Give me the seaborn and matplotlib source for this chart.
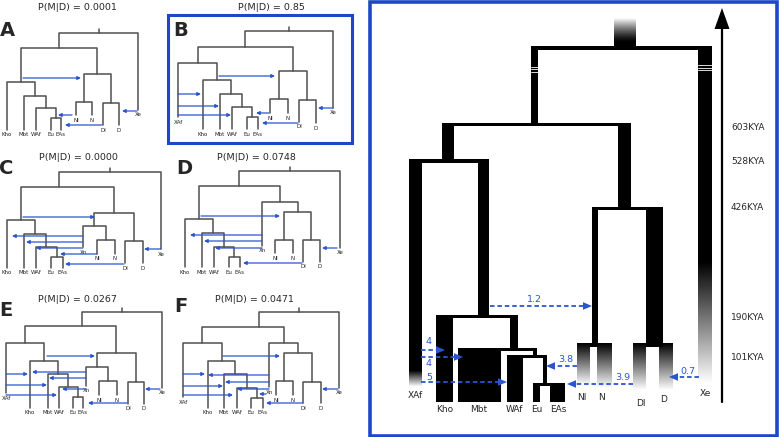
import numpy as np
import pandas as pd
import seaborn as sns
import matplotlib.pyplot as plt
from matplotlib.patches import Rectangle, Polygon

sns.set_theme(style='white')
plt.rcParams['font.family'] = ['DejaVu Sans']

BLUE = '#1d47c8'
ARROW = '#2a55cf'
TREE = '#505050'

# ---- small model trees (panel-local px, y grows downward) ----
letters = ['A', 'B', 'C', 'D', 'E', 'F']
probs = ['0.0001', '0.85', '0.0000', '0.0748', '0.0267', '0.0471']

A_names = ['Kho', 'Mbt', 'WAf', 'Eu', 'EAs', 'NI', 'N', 'DI', 'D', 'Xe']
A_x = [7, 24, 36, 51, 61, 76, 92, 103, 119, 138]
A_lab = [135, 135, 135, 135, 135, 120, 120, 130, 130, 115]
A_joins = [('ee', 'Eu', 'EAs', 118), ('we', 'WAf', 'ee', 108), ('mw', 'Mbt', 'we', 96),
           ('km', 'Kho', 'mw', 82), ('nn', 'NI', 'N', 102), ('dd', 'DI', 'D', 103),
           ('ar', 'nn', 'dd', 74), ('ma', 'km', 'ar', 48), ('rt', 'ma', 'Xe', 33)]
A_mig = [(23, 81, 78), (72, 58, 115), (102, 65, 125), (137, 122, 111)]

B_names = ['XAf', 'Kho', 'Mbt', 'WAf', 'Eu', 'EAs', 'NI', 'N', 'DI', 'D', 'Xe']
B_x = [8, 33, 50, 62, 77, 88, 100, 118, 129, 146, 163]
B_lab = [122, 134, 134, 134, 134, 134, 118, 118, 127, 128, 113]
B_joins = [('ee', 'Eu', 'EAs', 117), ('we', 'WAf', 'ee', 107), ('mw', 'Mbt', 'we', 94),
           ('km', 'Kho', 'mw', 80), ('xk', 'XAf', 'km', 63), ('nn', 'NI', 'N', 99),
           ('dd', 'DI', 'D', 100), ('ar', 'nn', 'dd', 71), ('ma', 'xk', 'ar', 47),
           ('rt', 'ma', 'Xe', 31)]
B_mig = [(49, 105, 76), (8, 31, 94), (8, 49, 106), (8, 61, 115),
         (99, 86, 113), (128, 92, 123), (163, 148, 108)]

C_names = ['Kho', 'Mbt', 'WAf', 'Eu', 'EAs', 'Xn', 'NI', 'N', 'DI', 'D', 'Xe']
C_x = [7, 24, 36, 51, 63, 83, 97, 115, 125, 143, 161]
C_lab = [133, 133, 133, 133, 133, 112, 119, 119, 128, 128, 114]
C_joins = [('ee', 'Eu', 'EAs', 117), ('we', 'WAf', 'ee', 107), ('mw', 'Mbt', 'we', 94),
           ('km', 'Kho', 'mw', 80), ('nn', 'NI', 'N', 100), ('xn', 'Xn', 'nn', 86),
           ('dd', 'DI', 'D', 101), ('ar', 'xn', 'dd', 73), ('ma', 'km', 'ar', 47, 59),
           ('rt', 'ma', 'Xe', 32)]
C_mig = [(23, 95, 77), (83, 12, 96), (83, 26, 102), (83, 36, 108),
         (97, 60, 114), (124, 65, 124), (161, 144, 109)]

D_names = ['Kho', 'Mbt', 'WAf', 'Eu', 'EAs', 'Xn', 'NI', 'N', 'DI', 'D', 'Xe']
D_x = [15, 32, 44, 59, 70, 92, 105, 123, 133, 150, 170]
D_lab = [132, 132, 132, 132, 132, 111, 118, 118, 127, 127, 113]
D_joins = [('ee', 'Eu', 'EAs', 117), ('we', 'WAf', 'ee', 107), ('mw', 'Mbt', 'we', 93),
           ('km', 'Kho', 'mw', 79), ('nn', 'NI', 'N', 100), ('dd', 'DI', 'D', 100),
           ('ar', 'nn', 'dd', 72), ('xa', 'Xn', 'ar', 62), ('ma', 'km', 'xa', 46),
           ('rt', 'ma', 'Xe', 31)]
D_mig = [(31, 110, 76), (92, 20, 95), (92, 34, 101), (92, 45, 108),
         (132, 73, 123), (167, 152, 108)]

E_names = ['XAf', 'Kho', 'Mbt', 'WAf', 'Eu', 'EAs', 'Xn', 'NI', 'N', 'DI', 'D', 'Xe']
E_x = [6, 30, 48, 59, 73, 83, 86, 99, 117, 128, 144, 162]
E_lab = [113, 128, 128, 128, 128, 128, 106, 115, 115, 124, 124, 108]
E_joins = [('ee', 'Eu', 'EAs', 112), ('we', 'WAf', 'ee', 102), ('mw', 'Mbt', 'we', 89),
           ('km', 'Kho', 'mw', 76), ('xk', 'XAf', 'km', 58), ('nn', 'NI', 'N', 96),
           ('xn', 'Xn', 'nn', 82), ('dd', 'DI', 'D', 97), ('ar', 'xn', 'dd', 68),
           ('ma', 'xk', 'ar', 41, 82), ('rt', 'ma', 'Xe', 27)]
E_mig = [(47, 95, 71), (6, 28, 89), (86, 32, 87), (6, 47, 100), (86, 49, 93),
         (6, 57, 110), (86, 62, 104), (127, 88, 118), (160, 145, 104)]

F_names = ['XAf', 'Kho', 'Mbt', 'WAf', 'Eu', 'EAs', 'Xn', 'NI', 'N', 'DI', 'D', 'Xe']
F_x = [13, 38, 54, 67, 81, 93, 99, 106, 123, 133, 151, 169]
F_lab = [117, 128, 128, 128, 128, 128, 107, 115, 115, 123, 123, 108]
F_joins = [('ee', 'Eu', 'EAs', 113), ('we', 'WAf', 'ee', 103), ('mw', 'Mbt', 'we', 89),
           ('km', 'Kho', 'mw', 76), ('xk', 'XAf', 'km', 58), ('nn', 'NI', 'N', 96),
           ('dd', 'DI', 'D', 97), ('ar', 'nn', 'dd', 68), ('xa', 'Xn', 'ar', 58),
           ('ma', 'xk', 'xa', 42, 89), ('rt', 'ma', 'Xe', 27)]
F_mig = [(53, 110, 71), (13, 35, 89), (99, 38, 90), (13, 53, 101), (99, 55, 97),
         (13, 63, 110), (99, 67, 104), (96, 89, 109), (133, 96, 118), (168, 152, 104)]

# ---- right panel: best model, drawn as population blocks (px) ----
blk_x0 = [531, 531, 442, 442, 618, 409, 478, 436, 436, 510, 458, 458, 533, 507, 507, 543, 533, 533, 550, 592, 592, 646, 590, 646]
blk_x1 = [712, 538, 631, 454, 631, 489, 489, 518, 453, 518, 537, 501, 537, 547, 523, 547, 565, 540, 565, 663, 598, 663, 597, 659]
blk_top = [46, 46, 123, 123, 123, 159, 159, 315, 315, 315, 348, 348, 348, 355, 355, 355, 383, 383, 383, 207, 207, 207, 343, 343]
blk_bot = [50, 126, 126, 163, 210, 163, 318, 318, 402, 351, 351, 402, 358, 358, 402, 386, 386, 402, 402, 210, 347, 347, 347, 347]

# fading lineages: black from top, fade starts, white by bottom
fade_x0 = [409, 698, 577, 597, 633, 659]
fade_x1 = [422, 712, 590, 612, 646, 673]
fade_top = [159, 46, 343, 343, 343, 343]
fade_start = [371, 262, 343, 343, 343, 343]
fade_bot = [387, 384, 385, 388, 390, 390]

leaf_lbl = ['XAf', 'Kho', 'Mbt', 'WAf', 'Eu', 'EAs', 'NI', 'N', 'DI', 'D', 'Xe']
leaf_lx = [415, 445, 479, 514, 537, 558, 582, 602, 641, 664, 705]
leaf_ly = [395, 410, 410, 410, 410, 410, 398, 398, 403, 400, 393]

mig_from = [490, 421, 421, 421, 577, 633, 699]
mig_to = [592, 445, 463, 507, 546, 567, 669]
mig_y = [306, 350, 357, 382, 366, 384, 377]
mig_rate = ['1.2', '4', '4', '5', '3.8', '3.9', '0.7']
rate_x = [534, 429, 429, 429, 566, 623, 688]
rate_y = [299, 342, 363, 377, 360, 378, 371]

time_lbl = ['603KYA', '528KYA', '426KYA', '190KYA', '101KYA']
time_y = [127, 161, 208, 317, 357]

fig = plt.figure(figsize=(7.79, 4.37), dpi=100)
ax = fig.add_axes([0, 0, 1, 1])

# small panels
panels = [(A_names, A_x, A_lab, A_joins, A_mig), (B_names, B_x, B_lab, B_joins, B_mig),
          (C_names, C_x, C_lab, C_joins, C_mig), (D_names, D_x, D_lab, D_joins, D_mig),
          (E_names, E_x, E_lab, E_joins, E_mig), (F_names, F_x, F_lab, F_joins, F_mig)]
origins = [(0, 0), (170, 0), (0, 140), (170, 140), (0, 285), (170, 285)]
title_xy = [(77, 7), (271, 7), (78, 157), (256, 157), (77, 300), (254, 300)]
letter_xy = [(7, 30), (181, 31), (6, 168), (184, 168), (6, 310), (181, 306)]

rows = []
seg = 0
for (names, xs, labs, joins, migs), (ox, oy) in zip(panels, origins):
    pos = {n: (x, l - 5.5) for n, x, l in zip(names, xs, labs)}
    for j in joins:
        nm, a, b, h = j[:4]
        xa, ya = pos[a]
        xb, yb = pos[b]
        for px, py in [(xa, ya), (xa, h), (xb, h), (xb, yb)]:
            rows.append((px + ox, py + oy, seg))
        seg += 1
        xn = j[4] if len(j) > 4 else (xa + xb) / 2
        pos[nm] = (xn, h)
    # root stub
    rows += [(xn + ox, h + oy, seg), (xn + ox, h - 4 + oy, seg)]
    seg += 1
    for n, x, l in zip(names, xs, labs):
        ax.text(x + ox, l + oy, n, ha='center', va='center', fontsize=4.0, color='#222222')
    for x0, x1, y in migs:
        ax.annotate('', xy=(x1 + ox, y + oy), xytext=(x0 + ox, y + oy),
                    arrowprops=dict(arrowstyle='-|>', color=ARROW, lw=0.9,
                                    mutation_scale=5, shrinkA=0, shrinkB=0))

tree_df = pd.DataFrame(rows, columns=['x', 'y', 'seg'])
sns.lineplot(data=tree_df, x='x', y='y', units='seg', estimator=None, sort=False,
             color=TREE, lw=1.1, legend=False, ax=ax)

for (tx, ty), p in zip(title_xy, probs):
    ax.text(tx, ty, f'P(M|D) = {p}', ha='center', va='center', fontsize=6.8)
for (lx, ly), lt in zip(letter_xy, letters):
    ax.text(lx, ly, lt, ha='center', va='center', fontsize=14, fontweight='bold')

ax.add_patch(Rectangle((168, 14.5), 184.5, 128.5, fill=False, ec=BLUE, lw=2.2))

# right panel
for x0, x1, t, b in zip(blk_x0, blk_x1, blk_top, blk_bot):
    ax.add_patch(Rectangle((x0, t), x1 - x0, b - t, color='black', lw=0))

for x0, x1, t, s, b in zip(fade_x0, fade_x1, fade_top, fade_start, fade_bot):
    yy = np.linspace(t, b, 200)
    g = np.clip((yy - s) / (b - s), 0, 1)[:, None]
    ax.imshow(g, cmap='gray', vmin=0, vmax=1, extent=(x0, x1, b, t), origin='upper',
              aspect='auto', interpolation='bilinear')

# ancestral stem fading in from above
yy = np.linspace(18, 47, 200)
g = np.clip((42 - yy) / 24, 0, 1) ** 1.3
ax.imshow(g[:, None], cmap='gray', vmin=0, vmax=1, extent=(614, 636, 47, 18),
          origin='upper', aspect='auto', interpolation='bilinear')

# broken-branch marks
for y in [66.5, 69, 71.5]:
    ax.plot([531, 538], [y, y], color='white', lw=0.6)
for y in [65, 67.5, 70]:
    ax.plot([698, 712], [y, y], color='white', lw=0.6)

for n, x, y in zip(leaf_lbl, leaf_lx, leaf_ly):
    ax.text(x, y, n, ha='center', va='center', fontsize=6.5)

for x0, x1, y, r, rx, ry in zip(mig_from, mig_to, mig_y, mig_rate, rate_x, rate_y):
    d = 1 if x1 > x0 else -1
    ax.plot([x0, x1 - d * 8], [y, y], color=ARROW, lw=1.3, ls=(0, (2.5, 1.6)))
    ax.add_patch(Polygon([(x1, y), (x1 - d * 9, y - 3.8), (x1 - d * 9, y + 3.8)],
                         closed=True, color=ARROW, lw=0))
    ax.text(rx, ry, r, ha='center', va='center', fontsize=6.8, color=ARROW)

# time arrow
ax.plot([722, 722], [402, 26], color='black', lw=1.6)
ax.add_patch(Polygon([(722, 8), (714.5, 29), (729.5, 29)], closed=True, color='black', lw=0))
for t, y in zip(time_lbl, time_y):
    ax.text(731, y, t, ha='left', va='center', fontsize=6.5)

ax.add_patch(Rectangle((370, 1.5), 407, 434, fill=False, ec=BLUE, lw=2.6))

ax.set_xlim(0, 779)
ax.set_ylim(437, 0)
ax.axis('off')
fig.savefig('out.png', dpi=100)
